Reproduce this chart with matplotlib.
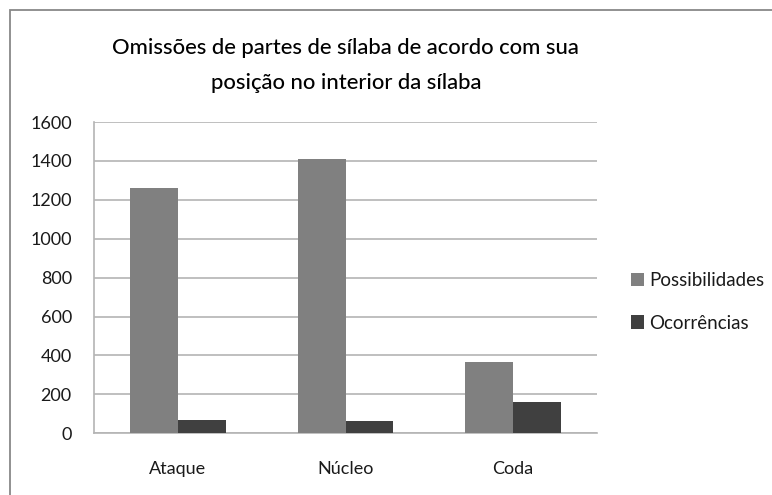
import numpy as np
import matplotlib.pyplot as plt
from matplotlib.patches import Rectangle

categorias = ['Ataque', 'Núcleo', 'Coda']
possibilidades = [1260, 1410, 365]
ocorrencias = [70, 65, 160]
yticks = [0, 200, 400, 600, 800, 1000, 1200, 1400, 1600]

plt.rcParams['font.family'] = ['Lato', 'DejaVu Sans']

fig = plt.figure(figsize=(7.72, 4.95), dpi=100)
ax = fig.add_axes([0.1218, 0.1246, 0.6515, 0.6289])

# moldura do gráfico (cortada à direita e embaixo)
fig.patches.append(Rectangle((10/772, -0.1), 2.0, 1 - 10/495 + 0.1, transform=fig.transFigure,
                             fill=False, edgecolor='#888888', linewidth=1.3, zorder=0))

x = np.arange(len(categorias))
w = 0.286
ax.bar(x - w/2, possibilidades, w, color='#808080', label='Possibilidades', zorder=3)
ax.bar(x + w/2, ocorrencias, w, color='#404040', label='Ocorrências', zorder=3)

ax.set_xlim(-0.5, 2.5)
ax.set_ylim(0, 1600)
ax.set_yticks(yticks)
ax.set_xticks(x, categorias)
ax.yaxis.grid(True, color='#b4b4b4', linewidth=1.2, zorder=0)
ax.set_axisbelow(True)
for s in ['top', 'right']:
    ax.spines[s].set_visible(False)
for s in ['left', 'bottom']:
    ax.spines[s].set_color('#b4b4b4')
    ax.spines[s].set_linewidth(1.2)
ax.tick_params(axis='both', length=0, labelsize=13, colors='#1a1a1a')
ax.tick_params(axis='y', pad=16)
ax.tick_params(axis='x', pad=20)

fig.text(0.448, 0.868, 'Omissões de partes de sílaba de acordo com sua\nposição no interior da sílaba',
         ha='center', va='center', fontsize=15.8, fontweight='medium', color='#000000', linespacing=1.9)

ax.legend(loc='center left', bbox_to_anchor=(0.795, 0.39), bbox_transform=fig.transFigure,
          frameon=False, fontsize=13.5, handlelength=0.7, handleheight=0.7,
          handletextpad=0.3, labelspacing=1.35, labelcolor='#1a1a1a')

fig.savefig('out.png', dpi=100)
